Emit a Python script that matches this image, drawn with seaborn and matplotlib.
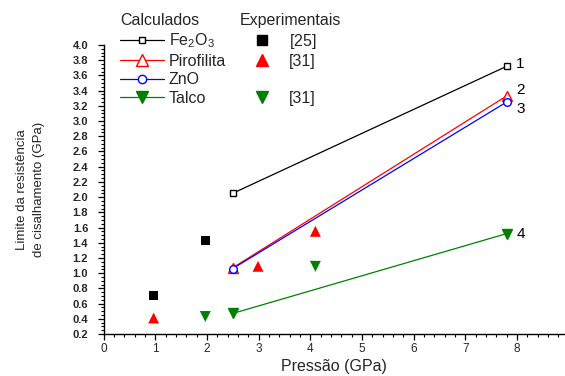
import pandas as pd
import seaborn as sns
import matplotlib.pyplot as plt
from matplotlib.ticker import MultipleLocator
from matplotlib.lines import Line2D

sns.set_theme(style='ticks')
plt.rcParams['font.family'] = ['Liberation Sans', 'DejaVu Sans']
plt.rcParams['mathtext.default'] = 'regular'

# calculated values
calc_pressure = [2.5, 7.8]
fe2o3_calc = [2.05, 3.72]
pirofilita_calc = [1.07, 3.33]
zno_calc = [1.06, 3.25]
talco_calc = [0.47, 1.52]

# experimental values
fe2o3_exp_p = [0.97, 1.97]
fe2o3_exp = [0.71, 1.43]
pirofilita_exp_p = [0.97, 2.99, 4.1]
pirofilita_exp = [0.41, 1.09, 1.55]
talco_exp_p = [1.97, 4.1]
talco_exp = [0.43, 1.09]

calc_names = ['Fe$_2$O$_3$', 'Pirofilita', 'ZnO', 'Talco']
calc_values = [fe2o3_calc, pirofilita_calc, zno_calc, talco_calc]
colors = ['black', '#ff0000', '#0000ff', '#008000']
markers = ['s', '^', 'o', 'v']
msizes = [5, 7, 5.5, 7]
leg_msizes = [5, 8, 6, 8]
filled = [False, False, False, True]
curve_ids = ['1', '2', '3', '4']
id_offsets = [(7, 2), (7, 4), (7, -5), (7, 0)]

fig = plt.figure(figsize=(5.65, 3.76), dpi=100)
ax = fig.add_axes([103.5 / 565, 1 - 334 / 376, 461 / 565, 289 / 376])

calc_handles = []
for name, vals, c, m, ms, lms, f, cid, off in zip(calc_names, calc_values, colors, markers,
                                                   msizes, leg_msizes, filled, curve_ids,
                                                   id_offsets):
    df = pd.DataFrame({'p': calc_pressure, 'tau': vals})
    sns.lineplot(data=df, x='p', y='tau', ax=ax, color=c, lw=0.9, marker=m, ms=ms,
                 mfc=c if f else 'white', mec=c, mew=1.0)
    calc_handles.append(Line2D([], [], color=c, lw=0.9, marker=m, ms=lms,
                               mfc=c if f else 'white', mec=c, mew=1.0))
    ax.annotate(cid, (calc_pressure[-1], vals[-1]), xytext=off, textcoords='offset points',
                ha='left', va='center', fontsize=11, color='black')

exp_sets = [(fe2o3_exp_p, fe2o3_exp, 'black', 's', 40),
            (pirofilita_exp_p, pirofilita_exp, '#ff0000', '^', 62),
            (talco_exp_p, talco_exp, '#008000', 'v', 62)]
for xs, ys, c, m, s in exp_sets:
    sns.scatterplot(x=xs, y=ys, ax=ax, color=c, marker=m, s=s, edgecolor='none')

ax.set_xlim(0, 8.92)
ax.set_ylim(0.2, 4.0)
ax.xaxis.set_major_locator(MultipleLocator(1))
ax.xaxis.set_minor_locator(MultipleLocator(0.2))
ax.yaxis.set_major_locator(MultipleLocator(0.2))
ax.yaxis.set_minor_locator(MultipleLocator(0.05))
ax.tick_params(which='major', length=4.5, width=0.9, color='black', direction='out')
ax.tick_params(which='minor', length=2.5, width=0.8, color='black', direction='out')
ax.tick_params(axis='y', pad=6.5, labelsize=8)
ax.tick_params(axis='x', pad=2, labelsize=8.5)
for lab in ax.get_yticklabels():
    lab.set_fontweight('bold')
ax.set_xticks(range(0, 9))
sns.despine(ax=ax)
for sp in ['left', 'bottom']:
    ax.spines[sp].set_color('black')
    ax.spines[sp].set_linewidth(1.0)

ax.set_xlabel('Pressão (GPa)', fontsize=11.5, labelpad=3)
ax.set_ylabel('Limite da resistência\nde cisalhamento (GPa)', fontsize=9.5,
              linespacing=1.55, labelpad=20)

leg_kw = dict(loc='upper left', bbox_transform=fig.transFigure, frameon=False,
              fontsize=11.5, title_fontsize=11.5, alignment='left', handlelength=2.75,
              handletextpad=0.3, labelspacing=0.22, borderpad=0, borderaxespad=0)

leg1 = ax.legend(calc_handles, calc_names, title='Calculados',
                 bbox_to_anchor=(120 / 565, 1 - 13 / 376), **leg_kw)
ax.add_artist(leg1)

exp_handles = [Line2D([], [], ls='none', marker='s', ms=6.5, color='black'),
               Line2D([], [], ls='none', marker='^', ms=9, color='#ff0000'),
               Line2D([], [], ls='none', marker='', color='none'),
               Line2D([], [], ls='none', marker='v', ms=9, color='#008000')]
exp_labels = ['[25]$_{\\,}$', '[31]', ' ', '[31]']
ax.legend(exp_handles, exp_labels, title='Experimentais',
          bbox_to_anchor=(240 / 565, 1 - 13 / 376), **leg_kw)

fig.savefig('out.png', dpi=100)
